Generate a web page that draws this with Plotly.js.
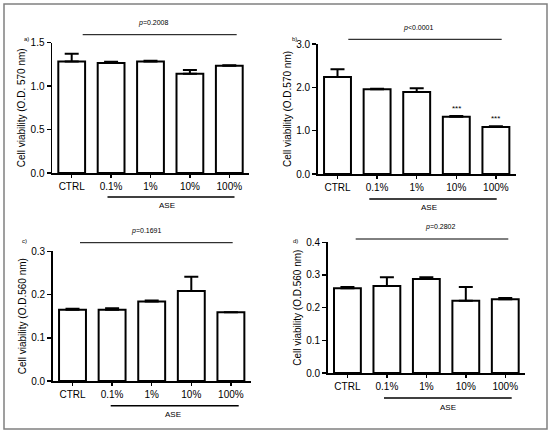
<!DOCTYPE html>
<html>
<head>
<meta charset="utf-8">
<script src="https://cdn.plot.ly/plotly-3.0.1.min.js"></script>
<style>html,body{margin:0;padding:0;background:#fff;}#chart{width:550px;height:436px;}</style>
</head>
<body>
<div id="chart"></div>
<script>
// ---- data ----
var categories = ["CTRL", "0.1%", "1%", "10%", "100%"];
var valuesA = [1.285, 1.266, 1.285, 1.143, 1.235];
var errorsA = [0.088, 0.015, 0.008, 0.042, 0.004];
var valuesB = [2.238, 1.954, 1.892, 1.323, 1.085];
var errorsB = [0.177, 0.015, 0.085, 0.015, 0.015];
var valuesC = [0.165, 0.165, 0.184, 0.208, 0.159];
var errorsC = [0.002, 0.003, 0.002, 0.033, 0.000];
var valuesD = [0.259, 0.266, 0.288, 0.221, 0.2255];
var errorsD = [0.004, 0.027, 0.005, 0.042, 0.004];
var pLabels = ["<i>p</i>=0.2008", "<i>p</i><0.0001", "<i>p</i>=0.1691", "<i>p</i>=0.2802"];
var panelLabels = ["a)", "b)", "c)", "d)"];
var yTitles = ["Cell viability (O.D. 570 nm)", "Cell viability (O.D.570 nm)",
               "Cell viability (O.D.560 nm)", "Cell viability (O.D.560 nm)"];
var groupLabel = "ASE";
var starsB = ["", "", "", "***", "***"];

var W = 550, H = 436;
function px(x) { return x / W; }
function py(y) { return 1 - y / H; }
var FONT = "Liberation Sans, Arial, sans-serif";

var sets = [
  {v: valuesA, e: errorsA},
  {v: valuesB, e: errorsB},
  {v: valuesC, e: errorsC},
  {v: valuesD, e: errorsD}
];

var traces = sets.map(function (s, i) {
  var n = i === 0 ? "" : String(i + 1);
  return {
    type: "bar",
    x: categories,
    y: s.v,
    xaxis: "x" + n,
    yaxis: "y" + n,
    width: 0.68,
    marker: {color: "#ffffff", line: {color: "#000000", width: 2}},
    error_y: {type: "data", symmetric: false, array: s.e,
              arrayminus: s.e.map(function () { return 0; }),
              color: "#000000", thickness: 2, width: 7},
    hoverinfo: "x+y",
    showlegend: false
  };
});

// panel geometry (pixels)
var panels = [
  {x0: 52, x1: 249, y0: 173, y1: 42.7, range: [0, 1.5], dtick: 0.5,
   pLine: [82.7, 236.7, 34.7], pText: [153, 23.3], ase: [107.5, 234.5, 197], aseText: [167, 205.5], lab: [26, 39]},
  {x0: 317.7, x1: 515.7, y0: 174, y1: 44, range: [0, 3], dtick: 1,
   pLine: [348.3, 501.7, 39.3], pText: [418.3, 28.3], ase: [369.3, 496.7, 199], aseText: [429, 207.3], lab: [294.5, 39]},
  {x0: 52.7, x1: 250.7, y0: 381, y1: 251.3, range: [0, 0.3], dtick: 0.1,
   pLine: [80, 232.7, 242.7], pText: [146.7, 231.3], ase: [110.7, 238.7, 405.7], aseText: [173.3, 414.7], lab: [24.5, 241.3]},
  {x0: 327.7, x1: 525, y0: 373, y1: 242.3, range: [0, 0.4], dtick: 0.1,
   pLine: [355.7, 508.3, 239], pText: [440, 227.3], ase: [384, 511.7, 398], aseText: [447.7, 407.3], lab: [295.5, 241.3]}
];

var layout = {
  width: W, height: H,
  margin: {l: 0, r: 0, t: 0, b: 0},
  paper_bgcolor: "#ffffff",
  plot_bgcolor: "rgba(0,0,0,0)",
  font: {family: FONT, color: "#000000", size: 10},
  showlegend: false,
  shapes: [],
  annotations: []
};

panels.forEach(function (p, i) {
  var n = i === 0 ? "" : String(i + 1);
  layout["xaxis" + n] = {
    domain: [px(p.x0), px(p.x1)],
    anchor: "y" + n,
    type: "category",
    range: [-0.5, 4.5],
    showline: true, linecolor: "#000000", linewidth: 1.5,
    ticks: "outside", ticklen: 3, tickwidth: 1.5, tickcolor: "#000000",
    showgrid: false, zeroline: false,
    tickfont: {family: FONT, size: 10, color: "#000000"},
    fixedrange: true
  };
  layout["yaxis" + n] = {
    domain: [py(p.y0), py(p.y1)],
    anchor: "x" + n,
    range: p.range,
    dtick: p.dtick,
    tick0: 0,
    tickformat: ".1f",
    showline: true, linecolor: "#000000", linewidth: 1.5,
    ticks: "outside", ticklen: 4, tickwidth: 1.5, tickcolor: "#000000",
    showgrid: false, zeroline: false,
    tickfont: {family: FONT, size: 10, color: "#000000"},
    title: {text: yTitles[i], font: {family: FONT, size: 10, color: "#000000"}, standoff: 3},
    fixedrange: true
  };
  // p-value line
  layout.shapes.push({type: "line", xref: "paper", yref: "paper",
    x0: px(p.pLine[0]), x1: px(p.pLine[1]), y0: py(p.pLine[2]), y1: py(p.pLine[2]),
    line: {color: "#000000", width: 1}});
  // ASE group line
  layout.shapes.push({type: "line", xref: "paper", yref: "paper",
    x0: px(p.ase[0]), x1: px(p.ase[1]), y0: py(p.ase[2]), y1: py(p.ase[2]),
    line: {color: "#000000", width: 1.5}});
  layout.annotations.push({xref: "paper", yref: "paper", x: px(p.pText[0]), y: py(p.pText[1]),
    text: pLabels[i], showarrow: false, xanchor: "center", yanchor: "middle",
    font: {family: FONT, size: 7, color: "#000000"}});
  layout.annotations.push({xref: "paper", yref: "paper", x: px(p.aseText[0]), y: py(p.aseText[1]),
    text: groupLabel, showarrow: false, xanchor: "center", yanchor: "middle",
    font: {family: FONT, size: 8, color: "#000000"}});
  layout.annotations.push({xref: "paper", yref: "paper", x: px(p.lab[0]), y: py(p.lab[1]),
    text: panelLabels[i], showarrow: false, xanchor: "center", yanchor: "middle",
    font: {family: FONT, size: 6, color: "#000000"}});
});

// significance stars for panel b
starsB.forEach(function (s, k) {
  if (!s) return;
  layout.annotations.push({xref: "x2", yref: "y2", x: categories[k], y: valuesB[k] + errorsB[k],
    text: s, showarrow: false, xanchor: "center", yanchor: "bottom", yshift: 1,
    font: {family: FONT, size: 8, color: "#000000"}});
});

// outer frame
layout.shapes.push({type: "rect", xref: "paper", yref: "paper",
  x0: px(4), x1: px(547), y0: py(429), y1: py(4),
  line: {color: "#808080", width: 1.5}});

Plotly.newPlot("chart", traces, layout, {displayModeBar: false, staticPlot: true});
</script>
</body>
</html>
